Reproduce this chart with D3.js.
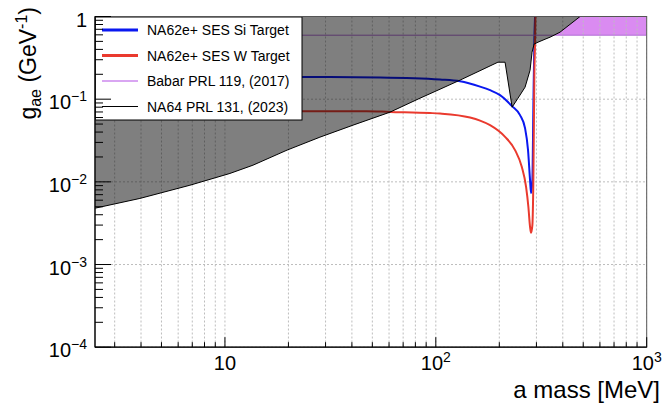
<!DOCTYPE html>
<html>
<head>
<meta charset="utf-8">
<script src="https://cdn.jsdelivr.net/npm/d3@7/dist/d3.min.js"></script>
<style>
  html, body { margin: 0; padding: 0; background: #fff; }
  svg { display: block; font-family: "Liberation Sans", Arial, Helvetica, sans-serif; }
</style>
</head>
<body>
<svg id="chart" width="669" height="404"></svg>
<script>
// Sensitivity curves: axion mass [MeV] vs coupling g_ae [GeV^-1]
const siMass = [2.42, 9.47, 22.7, 54.4, 104.7, 130.3, 162.1, 180.8, 201.6, 229.9, 250.8, 264.9, 273.7, 279.8, 282.8, 287.0, 290.1, 293.3, 295.5, 297.5];
const siCoupling = [0.190, 0.188, 0.186, 0.183, 0.173, 0.165, 0.142, 0.1285, 0.112, 0.0823, 0.0641, 0.0446, 0.0242, 0.0105, 0.0073, 0.0105, 0.080, 0.517, 1.0, 1.6];

const wMass = [2.42, 9.47, 47.0, 60.6, 93.9, 104.7, 145.3, 162.1, 180.8, 213.0, 237.5, 255.6, 267.9, 274.7, 279.8, 282.8, 287.0, 290.1, 293.3, 295.5, 297.5];
const wCoupling = [0.0716, 0.0716, 0.0716, 0.0702, 0.068, 0.067, 0.060, 0.055, 0.0485, 0.035, 0.0242, 0.0152, 0.0087, 0.0050, 0.00286, 0.00242, 0.0030, 0.0105, 0.2045, 0.517, 1.6];

// Excluded regions
const na64Mass = [2.42, 3.95, 6.82, 10.56, 13.58, 19.7, 28.2, 40.5, 60.6, 84.1, 104.7, 130.3, 162, 197, 213, 230, 245.5, 265, 279.8, 286, 292.4, 305.3, 329.6, 348, 388, 483];
const na64Coupling = [0.0048, 0.0063, 0.0091, 0.01264, 0.0159, 0.0242, 0.0347, 0.0485, 0.0696, 0.1027, 0.132, 0.170, 0.221, 0.280, 0.280, 0.080, 0.103, 0.1397, 0.224, 0.370, 0.463, 0.489, 0.531, 0.562, 0.646, 1.0];

const babarMass = [2.42, 1000];
const babarCoupling = [0.594, 0.594];

// Axis setup
const xDomain = [2.42, 1000];
const yDomain = [1e-4, 1];
const xMajorTicks = [10, 100, 1000];
const xTickLabels = [["10", ""], ["10", "2"], ["10", "3"]];
const yMajorTicks = [1, 1e-1, 1e-2, 1e-3, 1e-4];
const yTickLabels = [["1", ""], ["10", "\u22121"], ["10", "\u22122"], ["10", "\u22123"], ["10", "\u22124"]];

const legendLabels = ["NA62e+ SES Si Target", "NA62e+ SES W Target", "Babar PRL 119, (2017)", "NA64 PRL 131, (2023)"];
const legendColors = ["#0a18f0", "#ea3a2e", "#cc88ee", "#000000"];
const legendWidths = [3, 3, 1.5, 1];

const frameL = 95, frameR = 646.7, frameT = 16.5, frameB = 347.2;

const svg = d3.select("#chart");
const x = d3.scaleLog().domain(xDomain).range([frameL, frameR]);
const y = d3.scaleLog().domain(yDomain).range([frameB, frameT]);

svg.append("defs").append("clipPath").attr("id", "plotClip")
  .append("rect").attr("x", frameL).attr("y", frameT).attr("width", frameR - frameL).attr("height", frameB - frameT);

const plot = svg.append("g").attr("clip-path", "url(#plotClip)");

const zip = (ms, gs) => ms.map((m, i) => [m, gs[i]]);
const line = d3.line().x(d => x(d[0])).y(d => y(d[1]));
const smooth = d3.line().x(d => x(d[0])).y(d => y(d[1])).curve(d3.curveMonotoneX);

const na64Pts = zip(na64Mass, na64Coupling);
const na64Poly = [[xDomain[0], yDomain[1]]].concat(na64Pts).concat([[na64Mass[na64Mass.length - 1], yDomain[1]]]);
const babarPts = zip(babarMass, babarCoupling);
const babarPoly = babarPts.concat([[babarMass[1], yDomain[1]], [babarMass[0], yDomain[1]]]);

// Babar band, with the NA64 area blanked underneath
plot.append("path").attr("d", line(babarPoly) + "Z").attr("fill", "#da8bf1");
plot.append("path").attr("d", line(na64Poly) + "Z").attr("fill", "#fff");

// Grid
const xGridVals = [];
for (let dec = 1; dec <= 100; dec *= 10) {
  for (let k = 1; k <= 9; k++) {
    const v = k * dec;
    if (v >= xDomain[0] && v <= xDomain[1]) xGridVals.push(v);
  }
}
xGridVals.push(1000);
plot.append("g").selectAll("line").data(xGridVals).join("line")
  .attr("x1", d => x(d)).attr("x2", d => x(d)).attr("y1", frameT).attr("y2", frameB)
  .attr("stroke", "#bdbdbd").attr("stroke-width", 1).attr("stroke-dasharray", "2,2");
plot.append("g").selectAll("line").data(yMajorTicks).join("line")
  .attr("x1", frameL).attr("x2", frameR).attr("y1", d => y(d)).attr("y2", d => y(d))
  .attr("stroke", "#bdbdbd").attr("stroke-width", 1).attr("stroke-dasharray", "2,2");

// Sensitivity curves
plot.append("path").attr("d", smooth(zip(siMass, siCoupling)))
  .attr("fill", "none").attr("stroke", legendColors[0]).attr("stroke-width", 2);
plot.append("path").attr("d", smooth(zip(wMass, wCoupling)))
  .attr("fill", "none").attr("stroke", legendColors[1]).attr("stroke-width", 2);

// Babar edge
plot.append("path").attr("d", line(babarPts))
  .attr("fill", "none").attr("stroke", "#b36fd6").attr("stroke-width", 1);

// NA64 excluded region (translucent) and its boundary
plot.append("path").attr("d", line(na64Poly) + "Z").attr("fill", "rgba(0,0,0,0.5)");
plot.append("path").attr("d", line(na64Pts))
  .attr("fill", "none").attr("stroke", "#000").attr("stroke-width", 1);

// Legend
const lg = svg.append("g");
lg.append("rect").attr("x", frameL + 0.5).attr("y", frameT + 0.5).attr("width", 206.5).attr("height", 103)
  .attr("fill", "#fff").attr("stroke", "#000").attr("stroke-width", 1);
const rowY = [30, 55.5, 81, 106.5];
legendLabels.forEach((lab, i) => {
  lg.append("line").attr("x1", 102).attr("x2", 138).attr("y1", rowY[i]).attr("y2", rowY[i])
    .attr("stroke", legendColors[i]).attr("stroke-width", legendWidths[i]);
  lg.append("text").attr("x", 147).attr("y", rowY[i] + 5).attr("font-size", 14).attr("fill", "#000").text(lab);
});

// Frame
svg.append("rect").attr("x", frameL).attr("y", frameT).attr("width", frameR - frameL).attr("height", frameB - frameT)
  .attr("fill", "none").attr("stroke", "#555").attr("stroke-width", 1);
svg.append("line").attr("x1", frameL).attr("x2", frameR).attr("y1", frameB).attr("y2", frameB)
  .attr("stroke", "#000").attr("stroke-width", 1.2);
svg.append("line").attr("x1", frameL).attr("x2", frameL).attr("y1", frameT).attr("y2", frameB)
  .attr("stroke", "#000").attr("stroke-width", 1.2);

// X ticks
const axes = svg.append("g");
xGridVals.forEach(v => {
  const major = xMajorTicks.includes(v);
  axes.append("line").attr("x1", x(v)).attr("x2", x(v)).attr("y1", frameB).attr("y2", frameB - (major ? 10 : 5))
    .attr("stroke", "#000").attr("stroke-width", 1);
});
xMajorTicks.forEach((v, i) => {
  const t = axes.append("text").attr("x", x(v)).attr("y", 370).attr("text-anchor", "middle")
    .attr("font-size", 20).attr("fill", "#000");
  t.append("tspan").text(xTickLabels[i][0]);
  if (xTickLabels[i][1]) t.append("tspan").attr("dy", -8).attr("font-size", 14).text(xTickLabels[i][1]);
});

// Y ticks
const yMinor = [];
for (let e = -4; e < 0; e++) {
  for (let k = 2; k <= 9; k++) yMinor.push(k * Math.pow(10, e));
}
yMinor.forEach(v => {
  axes.append("line").attr("x1", frameL).attr("x2", frameL + 8).attr("y1", y(v)).attr("y2", y(v))
    .attr("stroke", "#000").attr("stroke-width", 1);
});
yMajorTicks.forEach((v, i) => {
  axes.append("line").attr("x1", frameL).attr("x2", frameL + 16).attr("y1", y(v)).attr("y2", y(v))
    .attr("stroke", "#000").attr("stroke-width", 1);
  const t = axes.append("text").attr("x", 87).attr("y", y(v) + 10).attr("text-anchor", "end")
    .attr("font-size", 20).attr("fill", "#000");
  t.append("tspan").text(yTickLabels[i][0]);
  if (yTickLabels[i][1]) t.append("tspan").attr("dy", -8).attr("font-size", 14).text(yTickLabels[i][1]);
});

// Axis titles
svg.append("text").attr("x", 660).attr("y", 398).attr("text-anchor", "end")
  .attr("font-size", 24).attr("fill", "#000").text("a mass [MeV]");

const yt = svg.append("text").attr("transform", "translate(36,7) rotate(-90)")
  .attr("text-anchor", "end").attr("font-size", 23).attr("fill", "#000");
yt.append("tspan").text("g");
yt.append("tspan").attr("dy", 5).attr("font-size", 16).text("ae");
yt.append("tspan").attr("dy", -5).text(" (GeV");
yt.append("tspan").attr("dy", -9).attr("font-size", 16).text("-1");
yt.append("tspan").attr("dy", 9).text(")");
</script>
</body>
</html>
